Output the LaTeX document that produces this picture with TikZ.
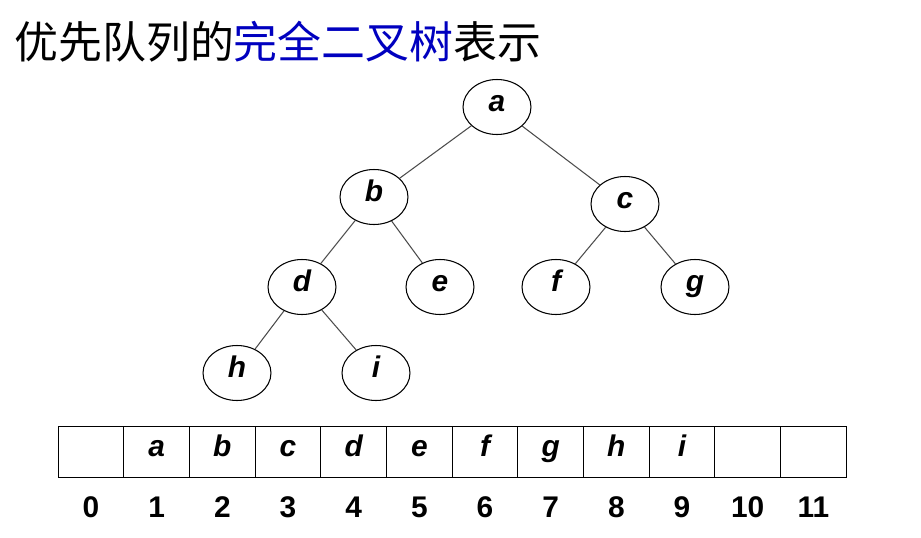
\documentclass[tikz,border=0pt]{standalone}
\usepackage{fontspec}
\setsansfont{Liberation Sans}
\newfontfamily\cjk{Noto Sans CJK SC}
\usetikzlibrary{shapes.geometric}
\begin{document}
\begin{tikzpicture}[x=0.02cm,y=-0.02cm,
  tn/.style={ellipse,draw,line width=0.6pt,minimum width=1.36cm,minimum height=1.1cm,inner sep=0pt,text height=1.5ex,text depth=0.3ex,font=\sffamily\bfseries\itshape\fontsize{17}{20}\selectfont},
  cell/.style={draw,line width=0.6pt,minimum width=1.314cm,minimum height=1.02cm,inner sep=0pt,text height=1.5ex,text depth=0.3ex,font=\sffamily\bfseries\itshape\fontsize{17}{20}\selectfont},
  idx/.style={font=\sffamily\bfseries\fontsize{17}{20}\selectfont},
  edge/.style={line width=0.6pt,draw=black!70}]
\useasboundingbox (0,0) rectangle (921,538);
\node[anchor=west,font=\cjk\fontsize{25}{30}\selectfont,inner sep=0pt] (title) at (14,42) {优先队列的\textcolor{blue!75!black}{完全二叉树}表示};
\foreach \n/\x/\y in {a/497/107,b/374/197,c/625/204,d/302/287,e/440/287,f/556/287,g/695/287,h/237/373,i/376/373}
  \node[tn] (\n) at (\x,\y) {\n};
\foreach \p/\c in {a/b,a/c,b/d,b/e,c/f,c/g,d/h,d/i}
  \draw[edge] (\p) -- (\c);
\foreach \k/\t in {0/,1/a,2/b,3/c,4/d,5/e,6/f,7/g,8/h,9/i,10/,11/}{
  \node[cell] (c\k) at ({91+65.67*\k},452) {\t};
  \node[idx] (n\k) at ({91+65.67*\k},507) {\k};
}
\end{tikzpicture}
\end{document}
